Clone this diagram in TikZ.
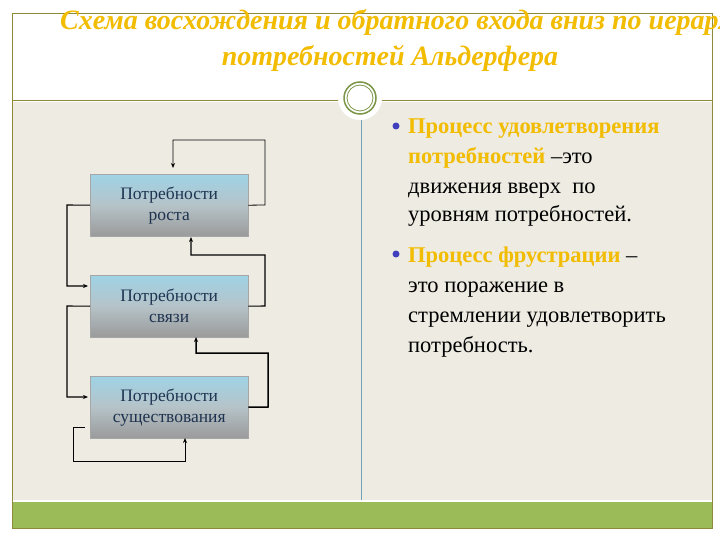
\documentclass[tikz,border=0pt]{standalone}
\usepackage{fontspec}
\setmainfont{Liberation Serif}
\usetikzlibrary{arrows.meta}
\definecolor{beige}{HTML}{EEEBE2}
\definecolor{gold}{HTML}{F2BC00}
\definecolor{grn}{HTML}{9BBB59}
\definecolor{ink}{HTML}{1F3350}
\definecolor{btop}{HTML}{9FD3E6}
\definecolor{bmid}{HTML}{B5C3C8}
\definecolor{bbot}{HTML}{9A9A9A}
\tikzset{
  x=1pt,y=-1pt,
  needbox/.style={draw=gray!70,minimum width=158pt,minimum height=62pt,top color=btop,bottom color=bbot,middle color=bmid,align=center,text=ink,font=\fontsize{17.5}{21}\selectfont,anchor=north west},
  conn/.style={draw=black,line width=1.1pt,-{Stealth[length=5pt,width=4pt]}},
  ttl/.style={text=gold,font=\fontsize{28}{32}\selectfont\bfseries\itshape},
  body/.style={font=\fontsize{22.5}{30}\selectfont,anchor=base west,inner sep=0pt}
}
\begin{document}
\begin{tikzpicture}
\useasboundingbox (0,0) rectangle (720,540);
\fill[white] (0,0) rectangle (720,540);
\fill[beige] (12,102) rectangle (712,500);
\fill[grn] (12,502) rectangle (712,528);
\draw[olive!60!gray] (12,13) rectangle (712,528);
\draw[olive!60!gray] (12,100) -- (712,100);
\draw[cyan!40!gray,line width=1pt] (361,110) -- (361,500);
\node[circle,fill=white,minimum size=44pt] (orn) at (360,98) {};
\draw[grn!80!black,line width=1.5pt] (orn.center) circle (16);
\draw[grn!80!black,line width=0.8pt] (orn.center) circle (13);
\begin{scope}
\clip (0,0) rectangle (720,540);
\node[ttl,anchor=base west,inner sep=0pt] (t1) at (60,30) {Схема восхождения и обратного входа вниз по иерархии};
\node[ttl,anchor=base,inner sep=0pt] (t2) at (390,66) {потребностей Альдерфера};
\end{scope}
\node[needbox] (g) at (90,174) {Потребности\\роста};
\node[needbox] (s) at (90,275) {Потребности\\связи};
\node[needbox] (e) at (90,376) {Потребности\\существования};
\coordinate (a2) at (191,237);
\coordinate (a3) at (196,337);
\coordinate (a4) at (185,438);
\draw[conn,line width=0.8pt] (g.east) -- (265,205) -- (265,140) -- (173,140) -- (173,168);
\draw[conn] (g.west) -- (67,205) -- (67,286) -- (88,286);
\draw[conn] (s.west) -- (67,306) -- (67,397) -- (88,397);
\draw[conn] (s.east) -- (265,306) -- (265,255) -- (191,255) -- (a2);
\draw[conn,line width=1.5pt] (e.east) -- (268,407) -- (268,353) -- (196,353) -- (a3);
\draw[conn,line width=0.8pt] (85,427) -- (73,427) -- (73,461) -- (185,461) -- (a4);
\fill[blue!50!gray] (396,126) circle (3.5);
\fill[blue!50!gray] (396,254) circle (3.5);
\node[body,text=gold,font=\fontsize{22.5}{30}\selectfont\bfseries] (b1) at (408,134) {Процесс удовлетворения};
\node[body] (b2) at (408,164) {\textcolor{gold}{\textbf{потребностей}} –это};
\node[body] (b3) at (408,194) {движения вверх\ \ по};
\node[body] (b4) at (408,222) {уровням потребностей.};
\node[body] (b5) at (408,262) {\textcolor{gold}{\textbf{Процесс фрустрации}} –};
\node[body] (b6) at (408,292) {это поражение в};
\node[body] (b7) at (408,322) {стремлении удовлетворить};
\node[body] (b8) at (408,352) {потребность.};
\end{tikzpicture}
\end{document}
